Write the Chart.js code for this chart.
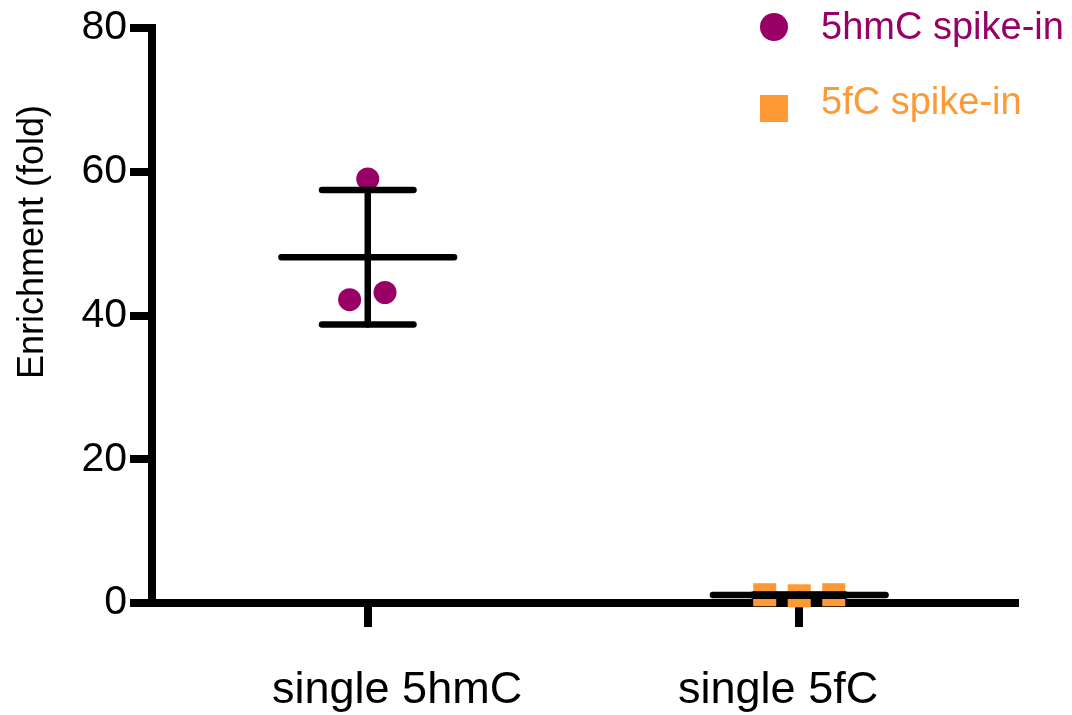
<!DOCTYPE html>
<html>
<head>
<meta charset="utf-8">
<script src="https://cdn.jsdelivr.net/npm/chart.js@4.4.1/dist/chart.umd.min.js"></script>
<style>
  html, body { margin: 0; padding: 0; background: #fff; }
  #wrap { width: 1072px; height: 715px; }
</style>
</head>
<body>
<div id="wrap"><canvas id="enrichChart" width="1072" height="715"></canvas></div>
<script>
// data
var categories = ['single 5hmC', 'single 5fC'];
var seriesNames = ['5hmC spike-in', '5fC spike-in'];
var seriesColors = ['#990066', '#FF9933'];
var hmcValues = [42.2, 59.0, 43.2];
var fcValues = [1.15, 1.0, 1.15];
var jitter = [[-0.042, 0, 0.04], [-0.08, 0, 0.08]];
var means = [48.1, 1.1];
var sds = [9.35, 0.1];
var yTicks = [0, 20, 40, 60, 80];
var labelShift = [0.068, -0.049];

var FONT = "'Liberation Sans', Arial, Helvetica, sans-serif";

var pts = function (vals, i) {
    return vals.map((v, k) => ({ x: i + 1 + jitter[i][k], y: v }));
};

// mean line, sd whisker and caps as plain line datasets
var barSets = [];
means.forEach((m, i) => {
    let c = i + 1, s = sds[i];
    let segs = [
        [{ x: c - 0.2, y: m }, { x: c + 0.2, y: m }],
        [{ x: c, y: m - s }, { x: c, y: m + s }],
        [{ x: c - 0.106, y: m + s }, { x: c + 0.106, y: m + s }],
        [{ x: c - 0.106, y: m - s }, { x: c + 0.106, y: m - s }]
    ];
    segs.forEach(seg => {
        barSets.push({
            type: 'line',
            data: seg,
            borderColor: '#000',
            borderWidth: 6.5,
            borderCapStyle: 'round',
            pointRadius: 0,
            showLine: true,
            clip: false,
            order: 0
        });
    });
});

var sideText = {
    id: 'sideText',
    afterDraw: function (chart) {
        let ctx = chart.ctx;
        ctx.save();
        // y axis title
        ctx.translate(33, 242);
        ctx.rotate(-Math.PI / 2);
        ctx.fillStyle = '#000';
        ctx.font = '36px ' + FONT;
        ctx.textAlign = 'center';
        ctx.textBaseline = 'middle';
        ctx.fillText('Enrichment (fold)', 0, 0);
        ctx.restore();

        // legend
        ctx.save();
        ctx.font = '38px ' + FONT;
        ctx.textAlign = 'left';
        ctx.textBaseline = 'middle';
        ctx.fillStyle = seriesColors[0];
        ctx.beginPath();
        ctx.arc(774, 27, 14, 0, Math.PI * 2);
        ctx.fill();
        ctx.fillText(seriesNames[0], 821, 29);
        ctx.fillStyle = seriesColors[1];
        ctx.fillRect(760, 95, 28, 27);
        ctx.fillText(seriesNames[1], 821, 104);
        ctx.restore();
    }
};

var ctx = document.getElementById('enrichChart').getContext('2d');
var enrichChart = new Chart(ctx, {
    type: 'scatter',
    data: {
        datasets: barSets.concat([
            {
                label: seriesNames[0],
                data: pts(hmcValues, 0),
                pointStyle: 'circle',
                pointRadius: 11.5,
                backgroundColor: seriesColors[0],
                borderWidth: 0,
                clip: false,
                order: 1
            },
            {
                label: seriesNames[1],
                data: pts(fcValues, 1),
                pointStyle: 'rect',
                pointRadius: 16.3,
                backgroundColor: seriesColors[1],
                borderWidth: 0,
                clip: false,
                order: 1
            }
        ])
    },
    options: {
        responsive: false,
        animation: false,
        devicePixelRatio: 1,
        layout: { padding: { left: 0, top: 28, right: 57, bottom: 0 } },
        plugins: {
            legend: { display: false },
            tooltip: { enabled: false }
        },
        scales: {
            x: {
                type: 'linear',
                min: 0.5,
                max: 2.5,
                z: 1,
                position: 'bottom',
                afterBuildTicks: s => { s.ticks = categories.map((c, i) => ({ value: i + 1 })); },
                afterFit: s => { s.height = 24; },
                border: { display: true, color: '#000', width: 8 },
                grid: { drawOnChartArea: false, drawTicks: true, tickLength: 24, lineWidth: 8, color: '#000' },
                ticks: { display: false }
            },
            x2: {
                type: 'linear',
                min: 0.5,
                max: 2.5,
                position: 'bottom',
                afterBuildTicks: s => { s.ticks = categories.map((c, i) => ({ value: i + 1 + labelShift[i] })); },
                afterFit: s => { s.height = 88; },
                border: { display: false },
                grid: { display: false },
                ticks: {
                    autoSkip: false,
                    maxRotation: 0,
                    padding: 29,
                    color: '#000',
                    font: { family: FONT, size: 45 },
                    callback: (v, i) => categories[i]
                }
            },
            y: {
                min: 0,
                max: 80,
                afterBuildTicks: s => { s.ticks = yTicks.map(v => ({ value: v })); },
                afterFit: s => { s.width = 152; },
                border: { display: true, color: '#000', width: 8 },
                grid: { drawOnChartArea: false, drawTicks: true, tickLength: 22, lineWidth: 8, color: '#000' },
                ticks: {
                    padding: 3,
                    color: '#000',
                    font: { family: FONT, size: 41 }
                }
            }
        }
    },
    plugins: [sideText]
});
</script>
</body>
</html>
